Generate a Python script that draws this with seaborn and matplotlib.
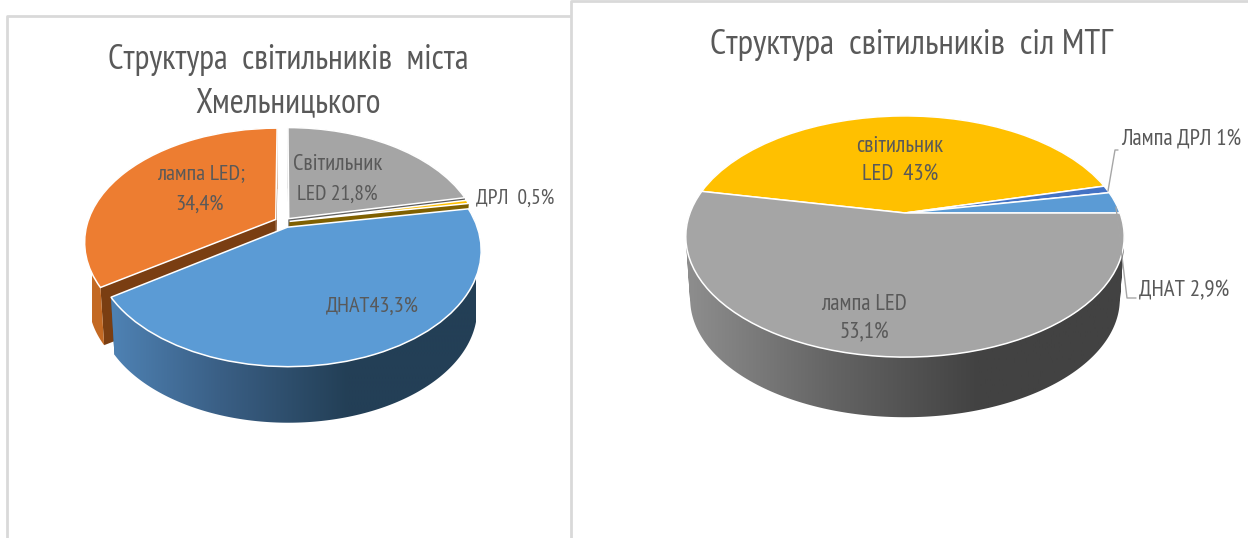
import numpy as np
import matplotlib
matplotlib.use("Agg")
import matplotlib.pyplot as plt
from matplotlib import font_manager as fm
from matplotlib.path import Path
from matplotlib.patches import PathPatch
from matplotlib.transforms import Transform
import seaborn as sns

# ---- data ----
city_names = ["Світильник LED", "ДРЛ", "ДНАТ", "лампа LED"]
city_values = [21.8, 0.5, 43.3, 34.4]
city_explode = [0.04, 0.03, 0.05, 0.05]
city_colors = ["#A5A5A5", "#FFC000", "#5B9BD5", "#ED7D31"]
city_cut = ["#636363", "#7F6000", "#2E5F8A", "#7A3E12"]
city_side = [["#8c8c8c", "#555555"], ["#a07800", "#7F6000"],
             ["#5288BC", "#3A5F85", "#233F56", "#233F56"], ["#C46A24", "#BF6420"]]
city_order = [0, 1, 3, 2]

village_names = ["лампа LED", "світильник LED", "Лампа ДРЛ", "ДНАТ"]
village_values = [53.1, 43.0, 1.0, 2.9]
village_explode = [0, 0, 0, 0]
village_colors = ["#A5A5A5", "#FFC000", "#4472C4", "#5B9BD5"]
village_cut = ["#555555", "#7F6000", "#2F4F88", "#2E5F8A"]
village_side = [["#8E8E8E", "#646464", "#424242", "#424242"], ["#A07800", "#7F6000"],
                ["#2F4F88", "#2F4F88"], ["#2E5F8A", "#2E5F8A"]]
village_order = [1, 2, 3, 0]

TEXT = "#595959"
BORDER = "#D9D9D9"

sns.set_theme(style="white")
have = {f.name for f in fm.fontManager.ttflist}
plt.rcParams["font.family"] = [n for n in ["PT Sans Narrow", "Roboto Condensed", "Liberation Sans", "DejaVu Sans"]
                               if n in have]


class Perspective(Transform):
    """Tilted view of the pie plane, near side larger than far side."""
    input_dims = output_dims = 2
    is_separable = False
    has_inverse = False

    def __init__(self, cx, cy, a, b, k, shift=0.0, scale=1.0):
        super().__init__()
        self.p = (cx, cy, a, b, k, shift, scale)

    def transform_non_affine(self, values):
        cx, cy, a, b, k, shift, scale = self.p
        v = np.asarray(values, float)
        d = 1 + k * v[:, 1]
        return np.column_stack([cx + scale * b * v[:, 0] / d,
                                cy + shift - scale * a * v[:, 1] / d])


fig = plt.figure(figsize=(12.48, 5.38), dpi=100, facecolor="white")
ax = fig.add_axes([0, 0, 1, 1])


def ribbon_path(upper, lower):
    """One compound path of equally oriented quads, so folds at the silhouette stay filled."""
    quads = []
    for j in range(len(upper) - 1):
        q = np.array([upper[j], upper[j + 1], lower[j + 1], lower[j]])
        x, y = q[:, 0], q[:, 1]
        area = np.sum(x * np.roll(y, -1) - np.roll(x, -1) * y)
        if area < 0:
            q = q[::-1]
        quads.append(Path(np.vstack([q, q[:1]]), closed=True))
    return Path.make_compound_path(*quads)


def draw(values, colors, cuts, sides, explode, order, cx, cy, a, b, k, start, depth, shrink):
    top = Perspective(cx, cy, a, b, k)
    low = Perspective(cx, cy, a, b, k, shift=depth, scale=shrink)
    wedges, _ = ax.pie(values, colors=colors, explode=explode, startangle=start,
                       counterclock=False, radius=1,
                       wedgeprops=dict(edgecolor="white", linewidth=1.1))
    z = 2.0
    for i in order:
        w = wedges[i]
        c = np.array(w.center)
        # straight cut faces
        for th in (w.theta1, w.theta2):
            rim = c + [np.cos(np.radians(th)), np.sin(np.radians(th))]
            pts = np.vstack([c, rim])
            poly = np.vstack([top.transform_non_affine(pts),
                              low.transform_non_affine(pts)[::-1]])
            ax.fill(poly[:, 0], poly[:, 1], color=cuts[i], lw=0, zorder=z)
        # curved outer side with a left-to-right shade
        t = np.radians(np.linspace(w.theta1, w.theta2, 200))
        arc = np.column_stack([c[0] + np.cos(t), c[1] + np.sin(t)])
        patch = PathPatch(ribbon_path(top.transform_non_affine(arc), low.transform_non_affine(arc)),
                          transform=ax.transData, fc="none", lw=0)
        cmap = sns.blend_palette(sides[i], as_cmap=True)
        im = ax.imshow(np.linspace(0, 1, 256)[None, :], cmap=cmap, aspect="auto",
                       extent=(cx - b * 1.02, cx + b * 1.02, 538, 0), zorder=z + 0.1)
        im.set_clip_path(patch)
        # top face
        w.set_transform(top + ax.transData)
        w.set_zorder(z + 0.2)
        z += 1


draw(city_values, city_colors, city_cut, city_side, city_explode, city_order,
     284, 222, 110, 188, 0.195, 90, 59, 0.98)
draw(village_values, village_colors, village_cut, village_side, village_explode, village_order,
     905, 213, 116, 215, 0.195, 0, 63, 0.98)

ax.set_aspect("auto")
ax.set(xlim=(0, 1248), ylim=(538, 0), xticks=[], yticks=[])
ax.set_frame_on(False)

# panel borders
ax.plot([7, 7, 570], [538, 16, 16], color=BORDER, lw=2, zorder=1)
ax.plot([571, 571, 1248], [538, 1, 1], color=BORDER, lw=2, zorder=1)

# leader lines
ax.plot([1108, 1115, 1118], [191, 150, 150], color="#A6A6A6", lw=1, zorder=30)
ax.plot([1116, 1127, 1136], [207, 298, 298], color="#A6A6A6", lw=1, zorder=30)


def label(x, y, s, size=16, **kw):
    ax.text(x, y, s, fontsize=size, color=TEXT, ha="center", va="center", zorder=40, **kw)


label(288, 60, "Структура  світильників  міста", 24.5)
label(288, 103, "Хмельницького", 24.5)
label(911, 45, "Структура  світильників  сіл МТГ", 25.5)

label(201, 174, "лампа LED;")
label(200, 204, "34,4%")
label(338, 164, "Світильник", 16.5)
label(337, 194, "LED 21,8%", 15.5)
label(515, 198, "ДРЛ  0,5%", 15.5)
label(372, 306, "ДНАТ43,3%")

label(900, 147, "світильник", 16.5)
label(900, 174, "LED  43%", 16.5)
label(1181, 140, "Лампа ДРЛ 1%", 16.5)
label(1184, 291, "ДНАТ 2,9%", 16.5)
label(864, 304, "лампа LED", 16.5)
label(864, 333, "53,1%", 16.5)

fig.savefig("out.png", dpi=100, facecolor="white")
